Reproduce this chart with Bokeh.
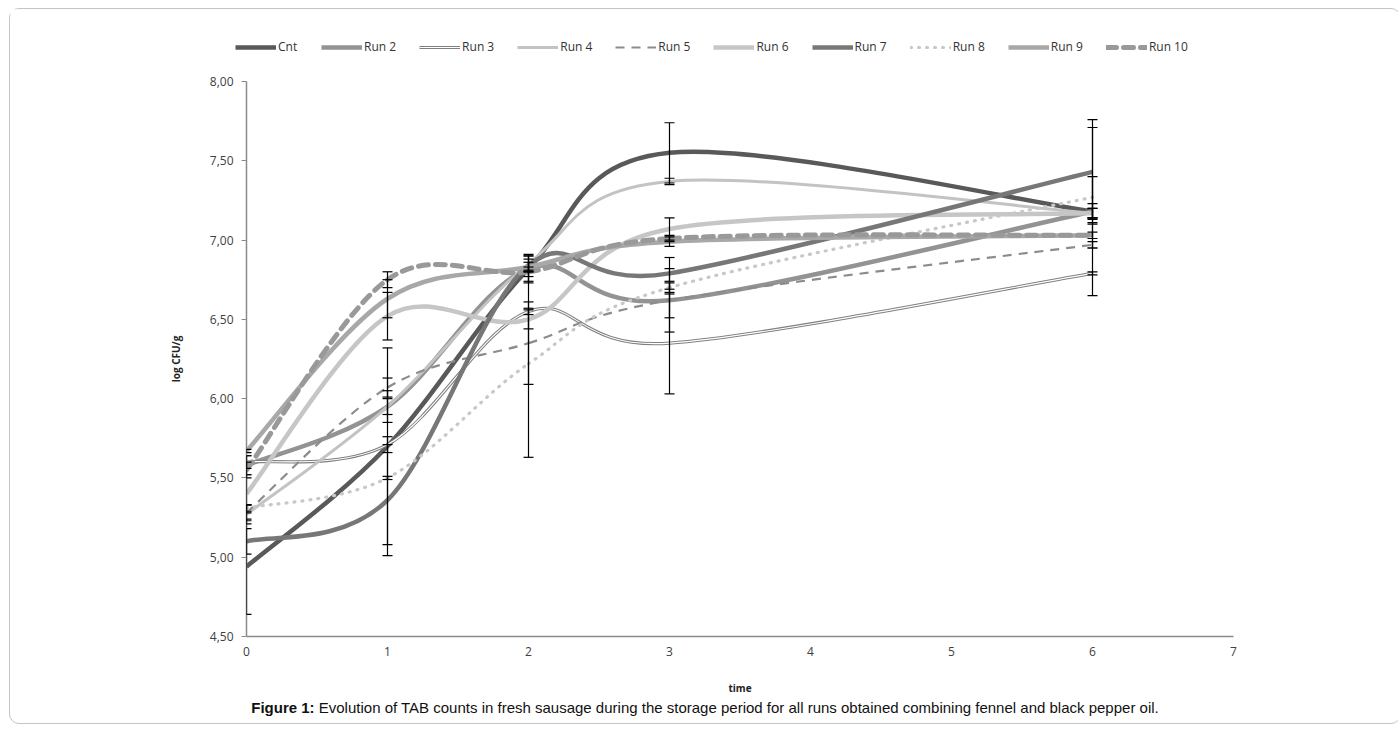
import numpy as np
from bokeh.plotting import figure
from bokeh.models import (ColumnDataSource, Whisker, TeeHead, Legend, LegendItem,
                          FixedTicker, Range1d, Div)
from bokeh.layouts import column
from bokeh.embed import file_html
from bokeh.resources import INLINE

# ---------------- data ----------------
times = [0, 1, 2, 3, 6]
x_ticks = [0, 1, 2, 3, 4, 5, 6, 7]
y_ticks = [4.5, 5.0, 5.5, 6.0, 6.5, 7.0, 7.5, 8.0]

series_names = ["Cnt", "Run 2", "Run 3", "Run 4", "Run 5",
                "Run 6", "Run 7", "Run 8", "Run 9", "Run 10"]

cnt   = [4.94, 5.70, 6.82, 7.55, 7.18]
run2  = [5.58, 5.95, 6.82, 6.62, 7.18]
run3  = [5.60, 5.71, 6.55, 6.35, 6.79]
run4  = [5.27, 5.95, 6.85, 7.37, 7.17]
run5  = [5.28, 6.07, 6.35, 6.62, 6.97]
run6  = [5.40, 6.52, 6.50, 7.07, 7.17]
run7  = [5.10, 5.36, 6.84, 6.79, 7.43]
run8  = [5.31, 5.50, 6.22, 6.70, 7.27]
run9  = [5.67, 6.63, 6.83, 6.99, 7.03]
run10 = [5.55, 6.75, 6.80, 7.01, 7.03]

cnt_err   = [0.30, 0.62, 0.08, 0.19, 0.05]
run2_err  = [0.06, 0.10, 0.09, 0.20, 0.53]
run3_err  = [0.04, 0.05, 0.02, 0.32, 0.01]
run4_err  = [0.06, 0.05, 0.05, 0.02, 0.03]
run5_err  = [0.05, 0.06, 0.26, 0.11, 0.02]
run6_err  = [0.12, 0.15, 0.06, 0.07, 0.03]
run7_err  = [0.08, 0.35, 0.04, 0.10, 0.33]
run8_err  = [0.02, 0.01, 0.59, 0.04, 0.13]
run9_err  = [0.01, 0.12, 0.03, 0.03, 0.02]
run10_err = [0.05, 0.05, 0.03, 0.02, 0.08]

values = [cnt, run2, run3, run4, run5, run6, run7, run8, run9, run10]
errors = [cnt_err, run2_err, run3_err, run4_err, run5_err,
          run6_err, run7_err, run8_err, run9_err, run10_err]

# ---------------- styles ----------------
styles = [
    dict(line_color="#595959", line_width=4.5),
    dict(line_color="#939393", line_width=4.5),
    dict(line_color="#808080", line_width=3.2),          # double line (outer)
    dict(line_color="#c3c3c3", line_width=3),
    dict(line_color="#8c8c8c", line_width=2.2, line_dash="9 7"),
    dict(line_color="#c6c6c6", line_width=4.5),
    dict(line_color="#777777", line_width=4.5),
    dict(line_color="#c8c8c8", line_width=3.2, line_dash="1 7", line_cap="round"),
    dict(line_color="#a8a8a8", line_width=4.5),
    dict(line_color="#999999", line_width=5, line_dash="10 7", line_cap="round"),
]

FONT = "Open Sans"
TXT = "#404040"
W = 1380

# ---------------- legend strip ----------------
lg = figure(width=W, height=64, x_range=Range1d(0, 1), y_range=Range1d(0, 1),
            x_axis_type=None, y_axis_type=None, output_backend="svg", toolbar_location=None,
            min_border=0)
lg.frame_align = False
lg.grid.visible = False
lg.outline_line_color = None
lg.border_fill_color = "white"

legend_items = []
for name, st in zip(series_names, styles):
    rends = [lg.line(x=[np.nan], y=[np.nan], **st)]
    if name == "Run 3":
        rends.append(lg.line(x=[np.nan], y=[np.nan], line_color="white", line_width=1.1))
    legend_items.append(LegendItem(label=name, renderers=rends))

legend = Legend(items=legend_items, orientation="horizontal", location=(225, 18),
                glyph_width=41, glyph_height=10, label_standoff=2, spacing=23,
                padding=0, margin=0, border_line_color=None, background_fill_alpha=0,
                label_text_font=FONT, label_text_font_size="12px", label_text_color="#333333",
                label_height=12)
lg.add_layout(legend, "center")

# ---------------- main chart ----------------
p = figure(width=W, height=624, x_range=Range1d(0, 7), y_range=Range1d(4.5, 8.0),
           output_backend="svg", toolbar_location=None,
           min_border_left=236, min_border_right=157, min_border_top=8, min_border_bottom=60)
p.frame_align = False
p.xgrid.visible = False
p.ygrid.visible = False
p.outline_line_color = None
p.background_fill_color = "white"
p.border_fill_color = "white"


def bezier_parts(xs, ys):
    n = len(xs)
    out = dict(x0=[], y0=[], x1=[], y1=[], cx0=[], cy0=[], cx1=[], cy1=[])
    for i in range(n - 1):
        a = max(i - 1, 0)
        b = min(i + 2, n - 1)
        out["x0"].append(xs[i]); out["y0"].append(ys[i])
        out["x1"].append(xs[i + 1]); out["y1"].append(ys[i + 1])
        out["cx0"].append(xs[i] + (xs[i + 1] - xs[a]) / 6.0)
        out["cy0"].append(ys[i] + (ys[i + 1] - ys[a]) / 6.0)
        out["cx1"].append(xs[i + 1] - (xs[b] - xs[i]) / 6.0)
        out["cy1"].append(ys[i + 1] - (ys[b] - ys[i]) / 6.0)
    return out


for name, vals, st in zip(series_names, values, styles):
    src = ColumnDataSource(bezier_parts(times, vals))
    p.bezier(x0="x0", y0="y0", x1="x1", y1="y1", cx0="cx0", cy0="cy0",
             cx1="cx1", cy1="cy1", source=src, **st)
    if name == "Run 3":
        p.bezier(x0="x0", y0="y0", x1="x1", y1="y1", cx0="cx0", cy0="cy0",
                 cx1="cx1", cy1="cy1", source=src, line_color="white", line_width=1.1)

# error bars
for vals, errs in zip(values, errors):
    esrc = ColumnDataSource(dict(x=times,
                                 lower=[v - e for v, e in zip(vals, errs)],
                                 upper=[v + e for v, e in zip(vals, errs)]))
    w = Whisker(base="x", lower="lower", upper="upper", source=esrc, dimension="height",
                line_color="black", line_width=1.2, level="overlay",
                upper_head=TeeHead(size=10, line_color="black", line_width=1.2),
                lower_head=TeeHead(size=10, line_color="black", line_width=1.2))
    p.add_layout(w)

# axes
p.yaxis.ticker = FixedTicker(ticks=y_ticks)
p.yaxis.major_label_overrides = {t: f"{t:.2f}".replace(".", ",") for t in y_ticks}
p.xaxis.ticker = FixedTicker(ticks=x_ticks)
for ax in (p.xaxis, p.yaxis):
    ax.axis_line_color = "#8a8a8a"
    ax.axis_line_width = 1.5
    ax.major_tick_line_color = "#8a8a8a"
    ax.minor_tick_line_color = None
    ax.major_label_text_font = FONT
    ax.major_label_text_font_size = "12px"
    ax.major_label_text_color = TXT
    ax.axis_label_text_font = FONT
    ax.axis_label_text_font_size = "10px"
    ax.axis_label_text_font_style = "bold"
    ax.axis_label_text_color = "#222222"
p.yaxis.major_tick_out = 5
p.yaxis.major_tick_in = 0
p.yaxis.major_label_standoff = 8
p.yaxis.axis_label = "log CFU/g"
p.yaxis.axis_label_standoff = 24
p.xaxis.major_tick_out = 0
p.xaxis.major_tick_in = 0
p.xaxis.major_label_standoff = 10
p.xaxis.axis_label = "time"
p.xaxis.axis_label_standoff = 22

caption = Div(text='<b>Figure 1:</b> Evolution of TAB counts in fresh sausage during the storage '
                   'period for all runs obtained combining fennel and black pepper oil.',
              width=W,
              styles={"text-align": "center", "font-family": "'Liberation Sans', Arial, sans-serif",
                      "font-size": "15px", "color": "#111111", "margin-top": "0px"})

layout = column(lg, p, caption, spacing=0, margin=(8, 0, 0, 9),
                styles={"border": "1px solid #c4c4c4", "border-radius": "10px"})

open("out.html", "w").write(file_html(layout, INLINE))
